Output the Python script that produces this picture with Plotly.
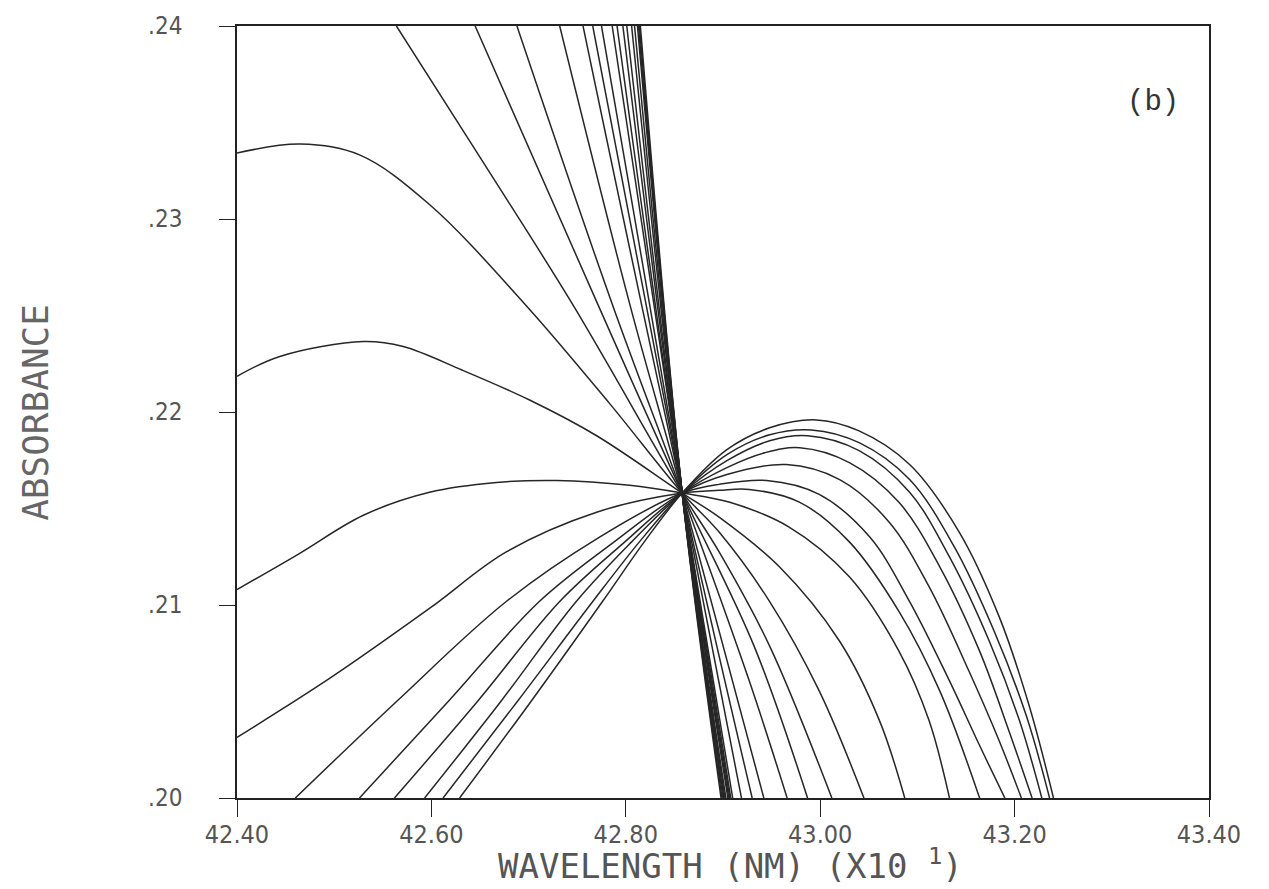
import plotly.graph_objects as go

# ---- tick labels ----
x_tickvals = [42.40, 42.60, 42.80, 43.00, 43.20, 43.40]
x_ticktext = ["42.40", "42.60", "42.80", "43.00", "43.20", "43.40"]
y_tickvals = [0.20, 0.21, 0.22, 0.23, 0.24]
y_ticktext = [".20", ".21", ".22", ".23", ".24"]

# ---- spectra (wavelength x10 nm, absorbance) ----
wl_01 = [42.815, 42.858, 42.898]; ab_01 = [0.2400, 0.2158, 0.2000]
wl_02 = [42.814, 42.858, 42.899]; ab_02 = [0.2400, 0.2158, 0.2000]
wl_03 = [42.813, 42.858, 42.900]; ab_03 = [0.2400, 0.2158, 0.2000]
wl_04 = [42.812, 42.858, 42.901]; ab_04 = [0.2400, 0.2158, 0.2000]
wl_05 = [42.809, 42.858, 42.902]; ab_05 = [0.2400, 0.2158, 0.2000]
wl_06 = [42.806, 42.858, 42.903]; ab_06 = [0.2400, 0.2158, 0.2000]
wl_07 = [42.801, 42.858, 42.905]; ab_07 = [0.2400, 0.2158, 0.2000]
wl_08 = [42.797, 42.858, 42.906]; ab_08 = [0.2400, 0.2158, 0.2000]
wl_09 = [42.791, 42.858, 42.907]; ab_09 = [0.2400, 0.2158, 0.2000]
wl_10 = [42.786, 42.858, 42.908]; ab_10 = [0.2400, 0.2158, 0.2000]
wl_11 = [42.775, 42.858, 42.910]; ab_11 = [0.2400, 0.2158, 0.2000]
wl_12 = [42.766, 42.858, 42.919]; ab_12 = [0.2400, 0.2158, 0.2000]
wl_13 = [42.756, 42.858, 42.930]; ab_13 = [0.2400, 0.2158, 0.2000]
wl_14 = [42.732, 42.804, 42.858, 42.942]
ab_14 = [0.2400, 0.2256, 0.2158, 0.2000]
wl_15 = [42.688, 42.786, 42.858, 42.927, 42.966]
ab_15 = [0.2400, 0.2256, 0.2158, 0.20607, 0.2000]
wl_16 = [42.645, 42.771, 42.858, 42.932, 42.987]
ab_16 = [0.2400, 0.2256, 0.2158, 0.20787, 0.2000]
wl_17 = [42.564, 42.655, 42.745, 42.858, 42.896, 42.948, 43.012]
ab_17 = [0.2400, 0.2328, 0.2256, 0.2158, 0.21275, 0.20787, 0.2000]
wl_18 = [42.400, 42.465, 42.526, 42.598, 42.696, 42.783, 42.858, 42.896, 42.948, 42.999, 43.045]
ab_18 = [0.23342, 0.23388, 0.23332, 0.23075, 0.2256, 0.22046, 0.2158, 0.21378, 0.21018, 0.20555, 0.2000]
wl_19 = [42.400, 42.444, 42.530, 42.571, 42.632, 42.701, 42.770, 42.858, 42.896, 42.958, 43.020, 43.061, 43.087]
ab_19 = [0.22185, 0.22288, 0.22365, 0.22339, 0.22216, 0.22062, 0.21877, 0.2158, 0.21455, 0.21198, 0.20812, 0.20401, 0.2000]
wl_20 = [42.400, 42.462, 42.530, 42.598, 42.667, 42.729, 42.804, 42.858, 42.907, 42.968, 43.030, 43.081, 43.112, 43.133]
ab_20 = [0.2108, 0.2126, 0.21465, 0.21584, 0.21635, 0.21645, 0.2162, 0.2158, 0.21532, 0.21404, 0.21146, 0.20761, 0.20401, 0.2000]
wl_21 = [42.400, 42.496, 42.598, 42.677, 42.770, 42.858, 42.896, 42.927, 42.979, 43.030, 43.081, 43.123, 43.164]
ab_21 = [0.20314, 0.20622, 0.20982, 0.21275, 0.21481, 0.2158, 0.21594, 0.21599, 0.21532, 0.21327, 0.20967, 0.20555, 0.2000]
wl_22 = [42.460, 42.565, 42.677, 42.773, 42.858, 42.896, 42.945, 42.999, 43.051, 43.092, 43.133, 43.164, 43.190]
ab_22 = [0.2000, 0.20504, 0.21018, 0.21352, 0.2158, 0.21625, 0.21645, 0.21573, 0.21352, 0.21018, 0.20607, 0.20272, 0.2000]
wl_23 = [42.526, 42.618, 42.711, 42.788, 42.858, 42.904, 42.965, 43.020, 43.071, 43.112, 43.153, 43.184, 43.207]
ab_23 = [0.2000, 0.20504, 0.21018, 0.21327, 0.2158, 0.21676, 0.21728, 0.21650, 0.21429, 0.21095, 0.20658, 0.20298, 0.2000]
wl_24 = [42.562, 42.648, 42.732, 42.799, 42.858, 42.904, 42.943, 42.979, 43.030, 43.081, 43.123, 43.164, 43.194, 43.218]
ab_24 = [0.2000, 0.20504, 0.21018, 0.21327, 0.2158, 0.21712, 0.21789, 0.21815, 0.21738, 0.21532, 0.21198, 0.20761, 0.20350, 0.2000]
wl_25 = [42.593, 42.672, 42.749, 42.806, 42.858, 42.904, 42.948, 42.987, 43.040, 43.092, 43.133, 43.174, 43.205, 43.228]
ab_25 = [0.2000, 0.20504, 0.21018, 0.21327, 0.2158, 0.21748, 0.21851, 0.21877, 0.21800, 0.21584, 0.21249, 0.20812, 0.20401, 0.2000]
wl_26 = [42.612, 42.689, 42.766, 42.814, 42.858, 42.904, 42.948, 42.991, 43.040, 43.092, 43.138, 43.179, 43.212, 43.236]
ab_26 = [0.2000, 0.20504, 0.21018, 0.21327, 0.2158, 0.21779, 0.21882, 0.21907, 0.21841, 0.21650, 0.21301, 0.20864, 0.20427, 0.2000]
wl_27 = [42.629, 42.703, 42.776, 42.819, 42.858, 42.904, 42.948, 42.996, 43.040, 43.092, 43.143, 43.184, 43.215, 43.240]
ab_27 = [0.2000, 0.20504, 0.21018, 0.21327, 0.2158, 0.21805, 0.21918, 0.21959, 0.21902, 0.21728, 0.21378, 0.20941, 0.20478, 0.2000]

curves = [
    (wl_01, ab_01), (wl_02, ab_02), (wl_03, ab_03), (wl_04, ab_04), (wl_05, ab_05),
    (wl_06, ab_06), (wl_07, ab_07), (wl_08, ab_08), (wl_09, ab_09), (wl_10, ab_10),
    (wl_11, ab_11), (wl_12, ab_12), (wl_13, ab_13), (wl_14, ab_14), (wl_15, ab_15),
    (wl_16, ab_16), (wl_17, ab_17), (wl_18, ab_18), (wl_19, ab_19), (wl_20, ab_20),
    (wl_21, ab_21), (wl_22, ab_22), (wl_23, ab_23), (wl_24, ab_24), (wl_25, ab_25),
    (wl_26, ab_26), (wl_27, ab_27),
]

fig = go.Figure()
for wl, ab in curves:
    fig.add_trace(go.Scatter(
        x=wl, y=ab, mode="lines",
        line=dict(color="#262626", width=1.5, shape="spline", smoothing=1.0),
        showlegend=False, hoverinfo="skip",
    ))

label_font = "Liberation Sans Narrow, DejaVu Sans Condensed, DejaVu Sans, sans-serif"
title_font = "DejaVu Sans Mono, Liberation Mono, monospace"

fig.update_layout(
    width=1269, height=889,
    margin=dict(l=237, r=60, t=20, b=91),
    paper_bgcolor="white", plot_bgcolor="white",
    showlegend=False,
    xaxis=dict(
        range=[42.40, 43.40], tickvals=x_tickvals, ticktext=x_ticktext,
        showgrid=False, zeroline=False,
        showline=True, linecolor="#222", linewidth=1.6, mirror=True,
        ticks="outside", ticklen=17, tickwidth=1.4, tickcolor="#222",
        ticklabelstandoff=-4,
        tickfont=dict(family=label_font, size=25, color="#555"),
    ),
    yaxis=dict(
        range=[0.20, 0.24], tickvals=y_tickvals, ticktext=y_ticktext,
        showgrid=False, zeroline=False,
        showline=True, linecolor="#222", linewidth=1.6, mirror=True,
        ticks="outside", ticklen=16, tickwidth=1.4, tickcolor="#222",
        ticklabelstandoff=32,
        tickfont=dict(family=label_font, size=24, color="#555"),
    ),
    annotations=[
        dict(text="WAVELENGTH (NM) (X10 <sup>1</sup>)", xref="paper", yref="paper",
             x=0.508, y=-0.086, xanchor="center", yanchor="middle", showarrow=False,
             font=dict(family=title_font, size=34, color="#555")),
        dict(text="ABSORBANCE", xref="paper", yref="paper",
             x=-0.208, y=0.50, xanchor="center", yanchor="middle", showarrow=False,
             textangle=-90, font=dict(family=title_font, size=36, color="#666")),
        dict(text="(b)", xref="paper", yref="paper",
             x=0.942, y=0.901, xanchor="center", yanchor="middle", showarrow=False,
             font=dict(family="Liberation Mono, DejaVu Sans Mono, monospace", size=29, color="#333")),
    ],
)

fig.write_html("out.html")
